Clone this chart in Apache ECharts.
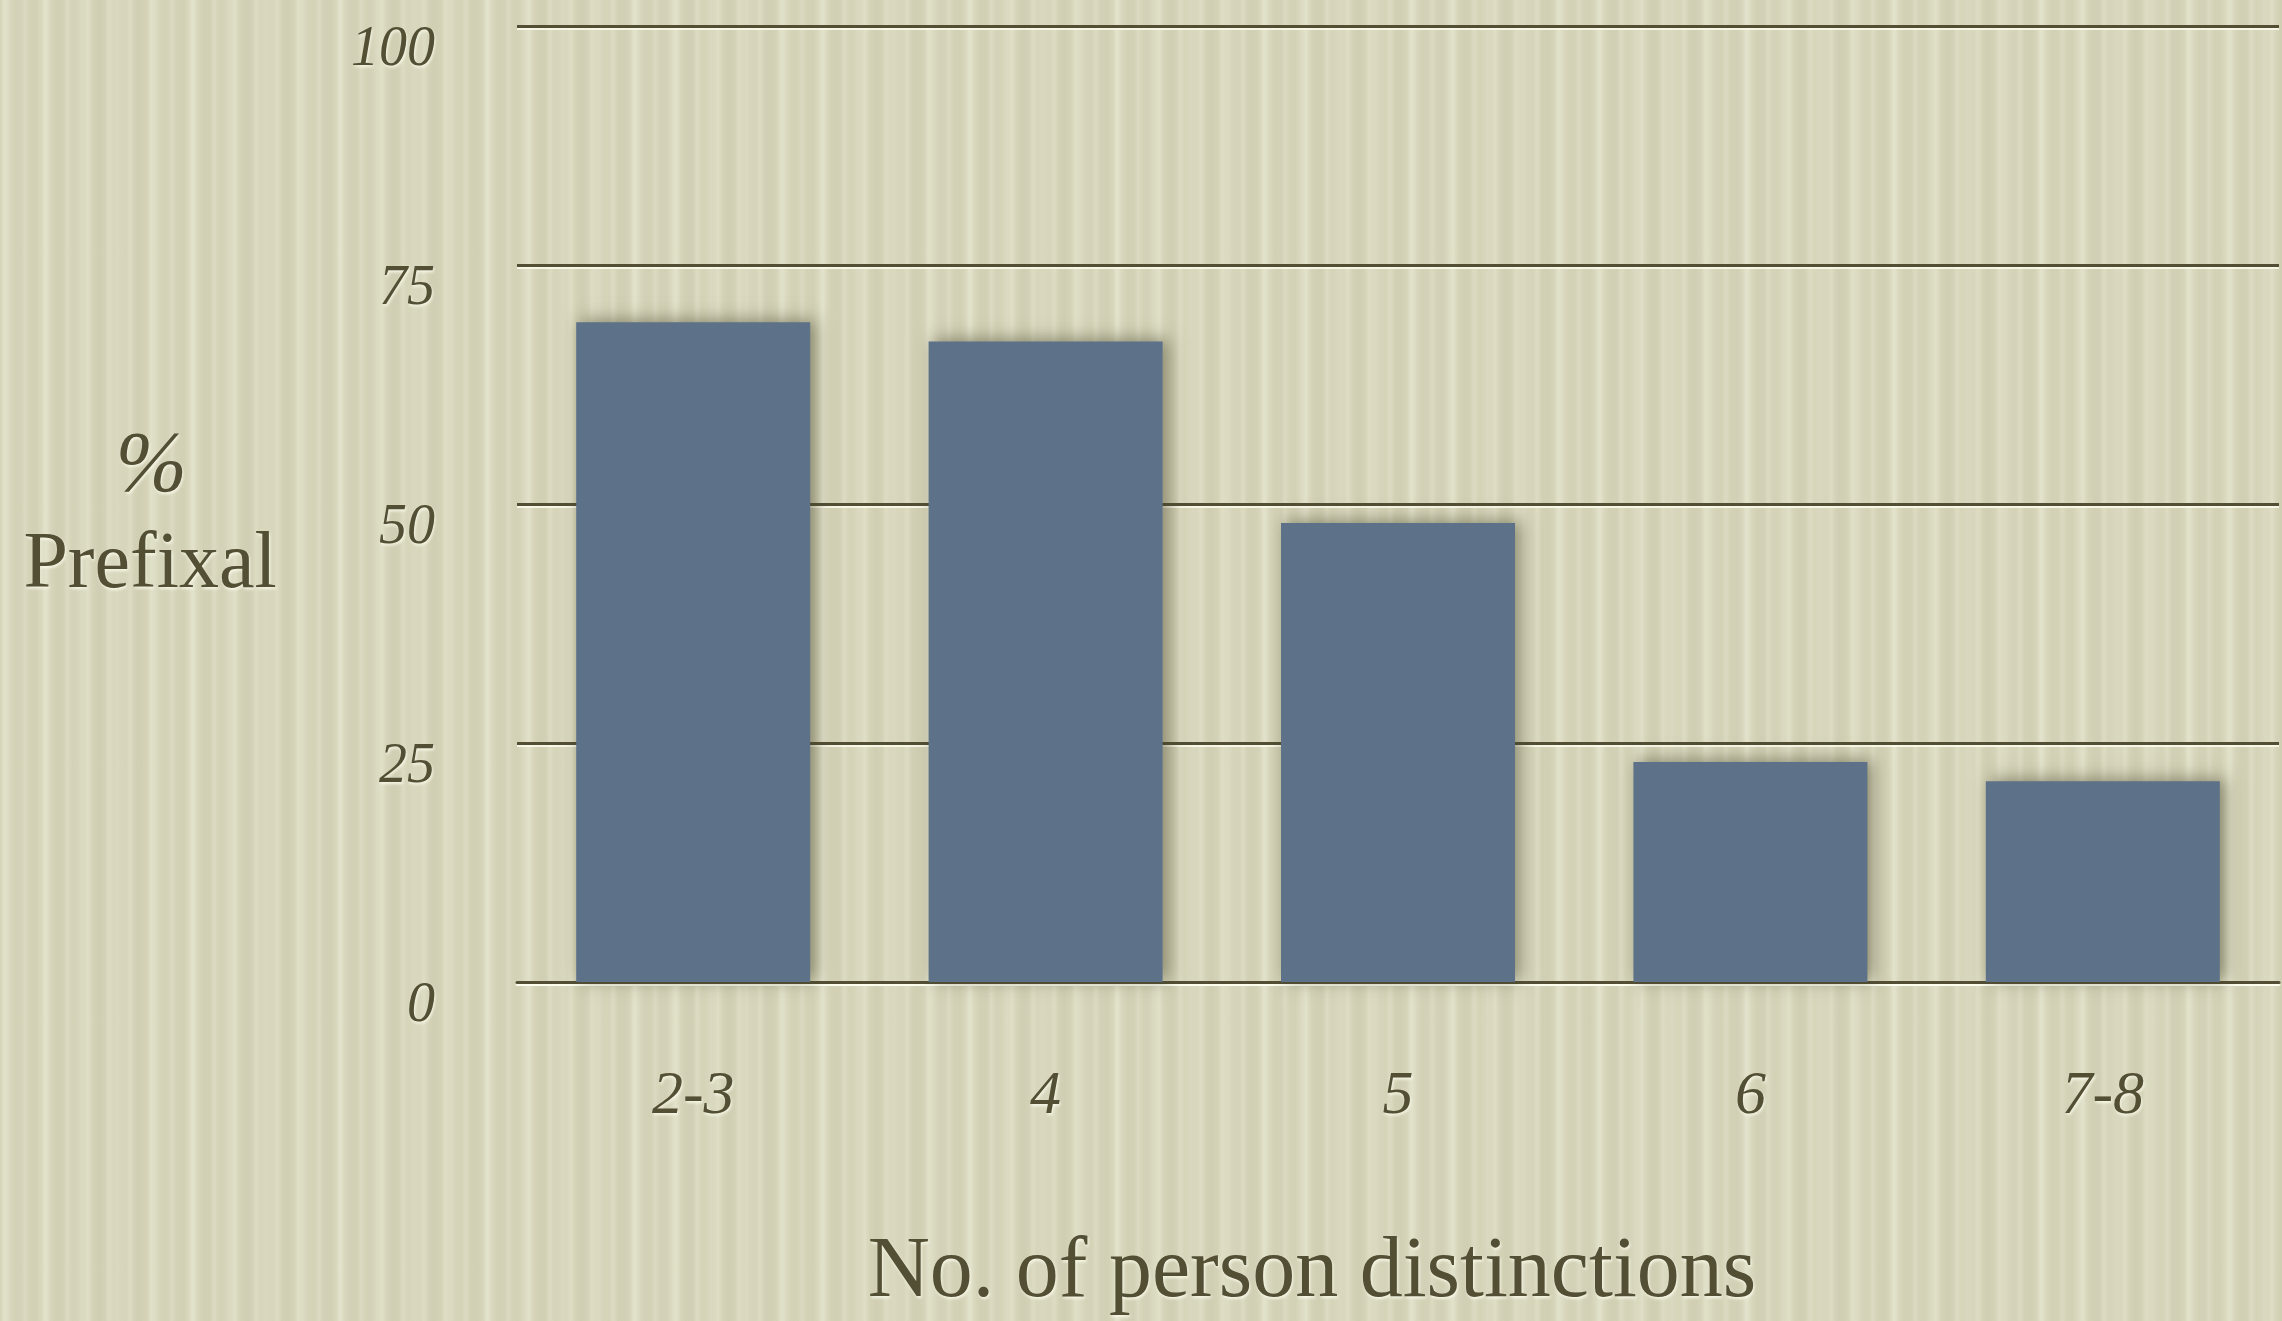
<!DOCTYPE html>
<html>
<head>
<meta charset="utf-8">
<script src="https://cdn.jsdelivr.net/npm/echarts@6/dist/echarts.min.js"></script>
<style>
html, body {
    margin: 0;
    padding: 0;
}
body {
    width: 2282px;
    height: 1321px;
    overflow: hidden;
    background-color: #d5d4b8;
    background-image:
        repeating-linear-gradient(90deg, rgba(255,255,240,0) 0px, rgba(255,255,240,0.22) 4px, rgba(255,255,240,0) 9px, rgba(190,188,160,0.12) 15px, rgba(255,255,240,0) 21px),
        repeating-linear-gradient(90deg, rgba(255,255,245,0) 0px, rgba(255,255,245,0.18) 7px, rgba(255,255,245,0) 17px, rgba(180,178,150,0.1) 26px, rgba(255,255,245,0) 37px);
}
#chart {
    width: 2282px;
    height: 1321px;
}
</style>
</head>
<body>
<div id="chart"></div>
<script>
// person distinctions vs % prefixal
var categories = ['2-3', '4', '5', '6', '7-8'];
var prefixal = [69, 67, 48, 23, 21];
var yTicks = [0, 25, 50, 75, 100];

var ink = '#524f35';
var serif = '"Liberation Serif", "DejaVu Serif", serif';
var glow = {
    textShadowColor: 'rgba(255,255,240,0.8)',
    textShadowBlur: 3,
    textShadowOffsetX: 1,
    textShadowOffsetY: 2
};

var myChart = echarts.init(document.getElementById('chart'));
myChart.setOption({
    backgroundColor: 'transparent',
    animation: false,
    grid: {
        left: 517,
        right: 3,
        top: 26,
        bottom: 339,
        containLabel: false,
        outerBoundsMode: 'none'
    },
    xAxis: {
        type: 'category',
        data: categories,
        axisLine: {
            show: true,
            lineStyle: { color: ink, width: 3, shadowColor: 'rgba(255,255,240,0.8)', shadowOffsetY: 2 }
        },
        axisTick: { show: false },
        axisLabel: Object.assign({
            color: ink,
            fontFamily: serif,
            fontStyle: 'italic',
            fontSize: 62,
            margin: 84
        }, glow)
    },
    yAxis: {
        type: 'value',
        min: 0,
        max: 100,
        interval: 25,
        axisLine: { show: false },
        axisTick: { show: false },
        axisLabel: Object.assign({
            color: ink,
            fontFamily: serif,
            fontStyle: 'italic',
            fontSize: 56,
            margin: 82,
            verticalAlign: 'top',
            lineHeight: 48,
            formatter: function (v) {
                return yTicks.indexOf(v) >= 0 ? String(v) : '';
            }
        }, glow),
        splitLine: {
            show: true,
            lineStyle: { color: ink, width: 3, shadowColor: 'rgba(255,255,240,0.8)', shadowOffsetY: 2 }
        }
    },
    series: [{
        name: '% Prefixal',
        type: 'bar',
        data: prefixal,
        barWidth: '66.4%',
        itemStyle: {
            color: '#5d7289',
            shadowColor: 'rgba(70,68,40,0.55)',
            shadowBlur: 16,
            shadowOffsetX: 5,
            shadowOffsetY: -2
        }
    }],
    graphic: [{
        type: 'text',
        x: 104 * 1.4554,
        y: 322 * 1.4554,
        style: Object.assign({
            text: '%',
            fill: ink,
            fontFamily: serif,
            fontStyle: 'italic',
            fontSize: 86,
            align: 'center',
            verticalAlign: 'middle'
        }, glow)
    }, {
        type: 'text',
        x: 150,
        y: 566,
        style: Object.assign({
            text: 'Prefixal',
            fill: ink,
            fontFamily: serif,
            fontSize: 80,
            align: 'center',
            verticalAlign: 'middle'
        }, glow)
    }, {
        type: 'text',
        x: 1312,
        y: 1273,
        style: Object.assign({
            text: 'No. of person distinctions',
            fill: ink,
            fontFamily: serif,
            fontSize: 86,
            align: 'center',
            verticalAlign: 'middle'
        }, glow)
    }]
});
</script>
</body>
</html>
